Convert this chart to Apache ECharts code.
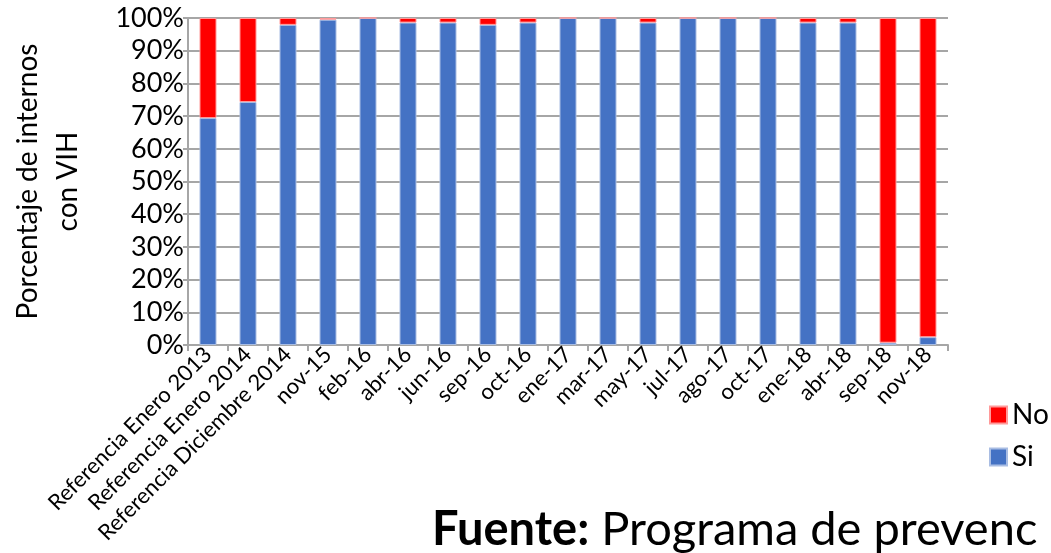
<!DOCTYPE html>
<html>
<head>
<meta charset="utf-8">
<script src="https://cdn.jsdelivr.net/npm/echarts@6/dist/echarts.min.js"></script>
<style>
  html, body { margin: 0; padding: 0; background: #fff; }
  #main { width: 1051px; height: 553px; }
</style>
</head>
<body>
<div id="main"></div>
<script>
// categorias del eje x
var categories = ['Referencia Enero 2013', 'Referencia Enero 2014', 'Referencia Diciembre 2014',
  'nov-15', 'feb-16', 'abr-16', 'jun-16', 'sep-16', 'oct-16', 'ene-17', 'mar-17', 'may-17',
  'jul-17', 'ago-17', 'oct-17', 'ene-18', 'abr-18', 'sep-18', 'nov-18'];
// porcentaje Si
var siValues = [69.4, 74.3, 97.9, 99.5, 100, 98.6, 98.6, 97.9, 98.6, 100, 100, 98.6,
  100, 100, 100, 98.6, 98.6, 0.7, 2.4];
// porcentaje No
var noValues = [30.6, 25.7, 2.1, 0.5, 0, 1.4, 1.4, 2.1, 1.4, 0, 0, 1.4,
  0, 0, 0, 1.4, 1.4, 99.3, 97.6];

var font = 'Lato, "Open Sans", sans-serif';
var chart = echarts.init(document.getElementById('main'));

var option = {
  animation: false,
  textStyle: { fontFamily: font, color: '#000' },
  grid: {
    left: 172,
    right: 103,
    top: 18,
    bottom: 208
  },
  legend: {
    orient: 'vertical',
    left: 984,
    top: 396,
    icon: 'rect',
    itemWidth: 17,
    itemHeight: 17,
    itemGap: 14,
    data: ['No', 'Si'],
    textStyle: { fontSize: 28, fontFamily: font, color: '#000' }
  },
  xAxis: {
    type: 'category',
    data: categories,
    axisLine: { lineStyle: { color: '#a6a6a6', width: 2 } },
    axisTick: { show: true, length: 6, lineStyle: { color: '#a6a6a6', width: 2 } },
    axisLabel: {
      rotate: 45,
      interval: 0,
      fontSize: 22,
      color: '#000',
      margin: 6
    }
  },
  yAxis: {
    type: 'value',
    min: 0,
    max: 100,
    interval: 10,
    name: 'Porcentaje de internos\ncon VIH',
    nameLocation: 'middle',
    nameGap: 100,
    nameTextStyle: { fontSize: 28, color: '#000', lineHeight: 40, fontFamily: font },
    axisLine: { show: true, lineStyle: { color: '#a6a6a6', width: 2 } },
    axisTick: { show: true, length: 5, lineStyle: { color: '#a6a6a6', width: 2 } },
    splitLine: { lineStyle: { color: '#a6a6a6', width: 2 } },
    axisLabel: {
      fontSize: 27,
      color: '#000',
      margin: 4,
      formatter: '{value}%'
    }
  },
  series: [
    {
      name: 'Si',
      type: 'bar',
      stack: 'total',
      barWidth: 17,
      itemStyle: { color: '#4472c4', borderColor: '#a9bde3', borderWidth: 1 },
      data: siValues
    },
    {
      name: 'No',
      type: 'bar',
      stack: 'total',
      barWidth: 17,
      itemStyle: { color: '#ff0000', borderColor: '#ff9a9a', borderWidth: 1 },
      data: noValues
    }
  ],
  graphic: [
    {
      type: 'text',
      left: 432,
      top: 506,
      style: {
        text: '{b|Fuente:} Programa de prevenc',
        fontSize: 47,
        fontFamily: font,
        fill: '#000',
        rich: {
          b: { fontWeight: 'bold', fontSize: 47, fontFamily: font }
        }
      }
    }
  ]
};

chart.setOption(option);
</script>
</body>
</html>
